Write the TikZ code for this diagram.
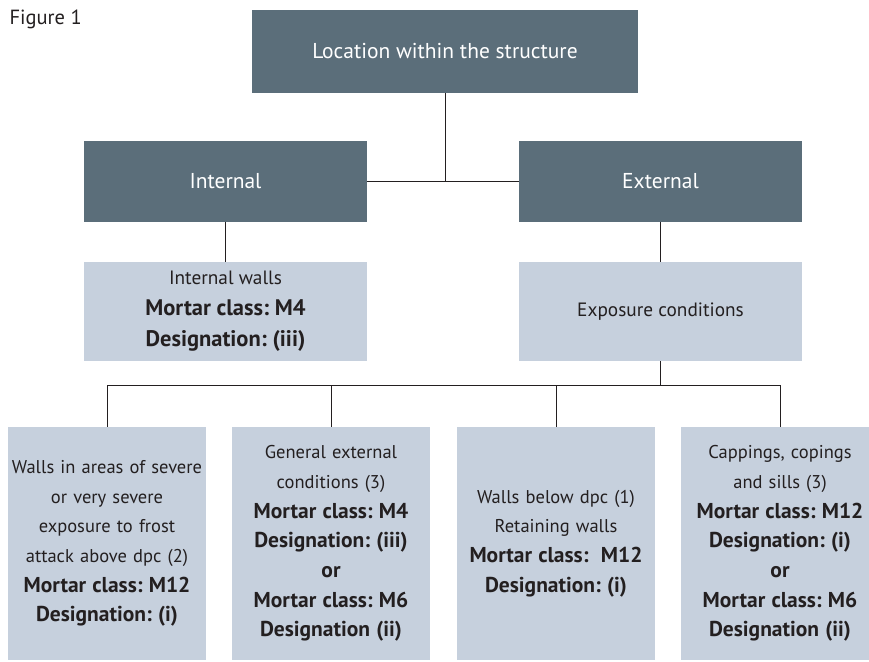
\documentclass[tikz,border=0pt]{standalone}
\usepackage{fontspec}
\setmainfont{PT Sans}
\usepackage{tikz}
\usetikzlibrary{calc}
\definecolor{slate}{HTML}{5B6E7A}
\definecolor{paleblue}{HTML}{C6D0DD}
\definecolor{inkgray}{HTML}{231F20}
\newcommand{\bigbold}[1]{{\fontsize{21.5}{30}\selectfont\bfseries #1}}
\newcommand{\midbold}[1]{{\fontsize{22.5}{32}\selectfont\bfseries #1}}
\tikzset{
  darkbox/.style={fill=slate,text=white,minimum width=283pt,minimum height=81pt,inner sep=0pt,font=\fontsize{21.5}{24}\selectfont},
  lightbox/.style={fill=paleblue,text=inkgray,minimum width=283pt,minimum height=99pt,inner sep=0pt,align=center,font=\fontsize{19.3}{31}\selectfont},
  lowbox/.style={fill=paleblue,text=inkgray,minimum width=198pt,minimum height=233pt,text width=196pt,inner sep=1pt,align=center,font=\fontsize{18.5}{29.7}\selectfont},
  link/.style={draw=inkgray,line width=1pt}
}
\frenchspacing

\begin{document}
\begin{tikzpicture}[x=1pt,y=-1pt]
        \useasboundingbox (0,0) rectangle (869,661);
        \begin{scope}
        \clip (0,0) rectangle (869,661);
        \node[anchor=west,text=inkgray,font=\fontsize{20.5}{22}\selectfont] (fig) at (6,19) {Figure 1};

        \node[darkbox,minimum width=386pt,minimum height=83pt] (loc) at (445,51.5) {Location within the structure};
        \node[darkbox] (int) at (225.5,181) {Internal};
        \node[darkbox] (ext) at (660.5,181) {External};

        \node[lightbox] (intw) at (225.5,311.5) {Internal walls\\ \midbold{Mortar class: M4}\\ \midbold{Designation: (iii)}};
        \node[lightbox] (expo) at (660.5,311.5) {Exposure conditions};

        \node[lowbox] (severe) at (107,543.5) {Walls in areas of severe\\ or very severe\\ exposure to frost\\ attack above dpc (2)\\ \bigbold{Mortar class: M12}\\ \bigbold{Designation: (i)}};
        \node[lowbox] (general) at (331,543.5) {General external\\ conditions (3)\\ \bigbold{Mortar class: M4}\\ \bigbold{Designation: (iii)}\\ \bigbold{or}\\ \bigbold{Mortar class: M6}\\ \bigbold{Designation (ii)}};
        \node[lowbox] (below) at (556,543.5) {Walls below dpc (1)\\ Retaining walls\\ \bigbold{Mortar class:\ \ M12}\\ \bigbold{Designation: (i)}};
        \node[lowbox] (capping) at (780,543.5) {Cappings, copings\\ and sills (3)\\ \bigbold{Mortar class: M12}\\ \bigbold{Designation: (i)}\\ \bigbold{or}\\ \bigbold{Mortar class: M6}\\ \bigbold{Designation (ii)}};
        \end{scope}

        % top level
        \draw[link] (int.east) -- (ext.west);
        \draw[link] (loc.south) -- (loc.south |- int.east);
        \draw[link] (int.south) -- (intw.north);
        \draw[link] (ext.south) -- (expo.north);

        % bus under exposure conditions
        \coordinate (bus) at ($(expo.south)+(0,24)$);
        \draw[link] (expo.south) -- (bus);
        \draw[link] (severe.north |- bus) -- (capping.north |- bus);
        \foreach \n in {severe,general,below,capping}
          \draw[link] (\n.north |- bus) -- (\n.north);
\end{tikzpicture}
\end{document}
